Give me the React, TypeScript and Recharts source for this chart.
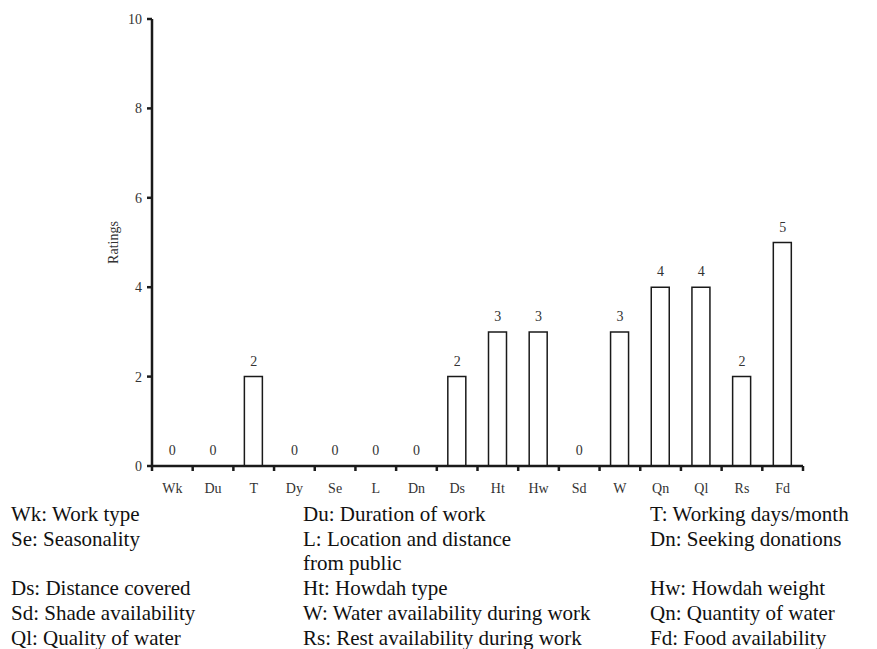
import React from 'react';
import { ComposedChart, Bar, Line, XAxis, YAxis, LabelList } from 'recharts';

const categories = ['Wk', 'Du', 'T', 'Dy', 'Se', 'L', 'Dn', 'Ds', 'Ht', 'Hw', 'Sd', 'W', 'Qn', 'Ql', 'Rs', 'Fd'];
const ratings = [0, 0, 2, 0, 0, 0, 0, 2, 3, 3, 0, 3, 4, 4, 2, 5];
const yTicks = [0, 2, 4, 6, 8, 10];

// legend, one list per column (empty string = blank line)
const legendCol1 = ['Wk: Work type', 'Se: Seasonality', '', 'Ds: Distance covered', 'Sd: Shade availability', 'Ql: Quality of water'];
const legendCol2 = ['Du: Duration of work', 'L: Location and distance', 'from public', 'Ht: Howdah type', 'W: Water availability during work', 'Rs: Rest availability during work'];
const legendCol3 = ['T: Working days/month', 'Dn: Seeking donations', '', 'Hw: Howdah weight', 'Qn: Quantity of water', 'Fd: Food availability'];

const data = categories.map((c, i) => ({ name: c, value: ratings[i] }));

const FONT = '"Liberation Serif", monospace';
const INK = '#1a1a1a';

const XTick = ({ x, y, payload, index }: any) => {
  const half = payload?.offset ?? 20.3;
  return (
    <g>
      {index === 0 && (
        <line x1={x - half} x2={x - half} y1={y} y2={y + 5} stroke={INK} strokeWidth={2.5} />
      )}
      <line x1={x + half} x2={x + half} y1={y} y2={y + 5} stroke={INK} strokeWidth={2.5} />
      <text x={x} y={y + 27} textAnchor="middle" fontSize={14} style={{ fontFamily: FONT }} fill="#333">
        {payload.value}
      </text>
    </g>
  );
};

const LegendCol = ({ lines, left }: { lines: string[]; left: number }) => (
  <div style={{ position: 'absolute', left, top: 502, fontFamily: FONT, fontSize: 21, lineHeight: '24.7px', color: '#111', whiteSpace: 'nowrap' }}>
    {lines.map((t, i) => (
      <div key={i}>{t || '\u00a0'}</div>
    ))}
  </div>
);

export default function App() {
  return (
    <div style={{ position: 'absolute', left: 0, top: 0, width: 877, height: 649 }}>
      <ComposedChart
        width={877}
        height={500}
        data={data}
        margin={{ top: 19, right: 74, left: 0, bottom: 0 }}
        barCategoryGap={0}
      >
        <XAxis
          dataKey="name"
          height={34}
          tickSize={0}
          tickMargin={0}
          tickLine={false}
          axisLine={{ stroke: INK, strokeWidth: 2.5 }}
          tick={<XTick />}
          interval={0}
        />
        <YAxis
          width={152}
          domain={[0, 10]}
          ticks={yTicks}
          tickSize={5}
          tickMargin={5}
          axisLine={{ stroke: INK, strokeWidth: 2.5 }}
          tickLine={{ stroke: INK, strokeWidth: 2.5 }}
          tick={{ fontSize: 14, fill: '#333', style: { fontFamily: FONT } }}
          label={{
            value: 'Ratings',
            angle: -90,
            position: 'center',
            dx: 37,
            style: { fontSize: 14, fontFamily: FONT, fill: '#333', textAnchor: 'middle' },
          }}
        />
        <Bar dataKey="value" barSize={18} fill="#fff" stroke={INK} strokeWidth={1.5} isAnimationActive={false} />
        {/* invisible line only to carry value labels, including the zeros */}
        <Line dataKey="value" stroke="none" dot={false} activeDot={false} isAnimationActive={false}>
          <LabelList
            dataKey="value"
            position="top"
            offset={11}
            fill="#333"
            stroke="none"
            style={{ fontSize: 14, fontFamily: FONT, fill: '#333' }}
          />
        </Line>
      </ComposedChart>
      <LegendCol lines={legendCol1} left={11} />
      <LegendCol lines={legendCol2} left={303} />
      <LegendCol lines={legendCol3} left={650} />
    </div>
  );
}
